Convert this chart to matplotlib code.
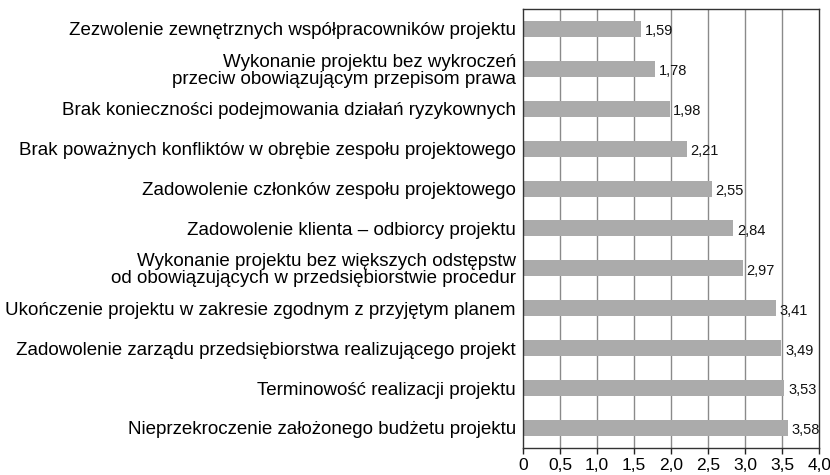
import numpy as np
import matplotlib.pyplot as plt

plt.rcParams['font.family'] = ['Liberation Sans', 'DejaVu Sans']

categories = [
    "Zezwolenie zewnętrznych współpracowników projektu",
    "Wykonanie projektu bez wykroczeń\nprzeciw obowiązującym przepisom prawa",
    "Brak konieczności podejmowania działań ryzykownych",
    "Brak poważnych konfliktów w obrębie zespołu projektowego",
    "Zadowolenie członków zespołu projektowego",
    "Zadowolenie klienta – odbiorcy projektu",
    "Wykonanie projektu bez większych odstępstw\nod obowiązujących w przedsiębiorstwie procedur",
    "Ukończenie projektu w zakresie zgodnym z przyjętym planem",
    "Zadowolenie zarządu przedsiębiorstwa realizującego projekt",
    "Terminowość realizacji projektu",
    "Nieprzekroczenie założonego budżetu projektu",
]
values = [1.59, 1.78, 1.98, 2.21, 2.55, 2.84, 2.97, 3.41, 3.49, 3.53, 3.58]
xticks = [0, 0.5, 1.0, 1.5, 2.0, 2.5, 3.0, 3.5, 4.0]
xtick_labels = ["0", "0,5", "1,0", "1,5", "2,0", "2,5", "3,0", "3,5", "4,0"]

fig = plt.figure(figsize=(8.3, 4.75), dpi=100)
ax = fig.add_axes([0.630, 0.057, 0.357, 0.924])

y = np.arange(len(categories))
ax.barh(y, values, height=0.4, color="#ababab", zorder=2)

for v in xticks[1:-1]:
    ax.axvline(v, color="#8a8a8a", lw=1.0, zorder=1)

for yi, v in zip(y, values):
    ax.text(v + 0.05, yi + 0.06, f"{v:.2f}".replace(".", ","), va="center", ha="left",
            fontsize=10.5, color="#111111", zorder=3)

ax.set_xlim(0, 4.0)
ax.set_ylim(len(categories) - 0.5, -0.5)
ax.set_xticks(xticks)
ax.set_xticklabels(xtick_labels, fontsize=12.5)
ax.set_yticks(y)
ax.set_yticklabels(categories, fontsize=13.5, linespacing=1.0)
ax.tick_params(axis="y", length=0, pad=5)
ax.tick_params(axis="x", length=4, width=1, color="#222222", direction="out", pad=3)
for s in ax.spines.values():
    s.set_color("#333333")
    s.set_linewidth(1.0)

fig.savefig("out.png", dpi=100)
